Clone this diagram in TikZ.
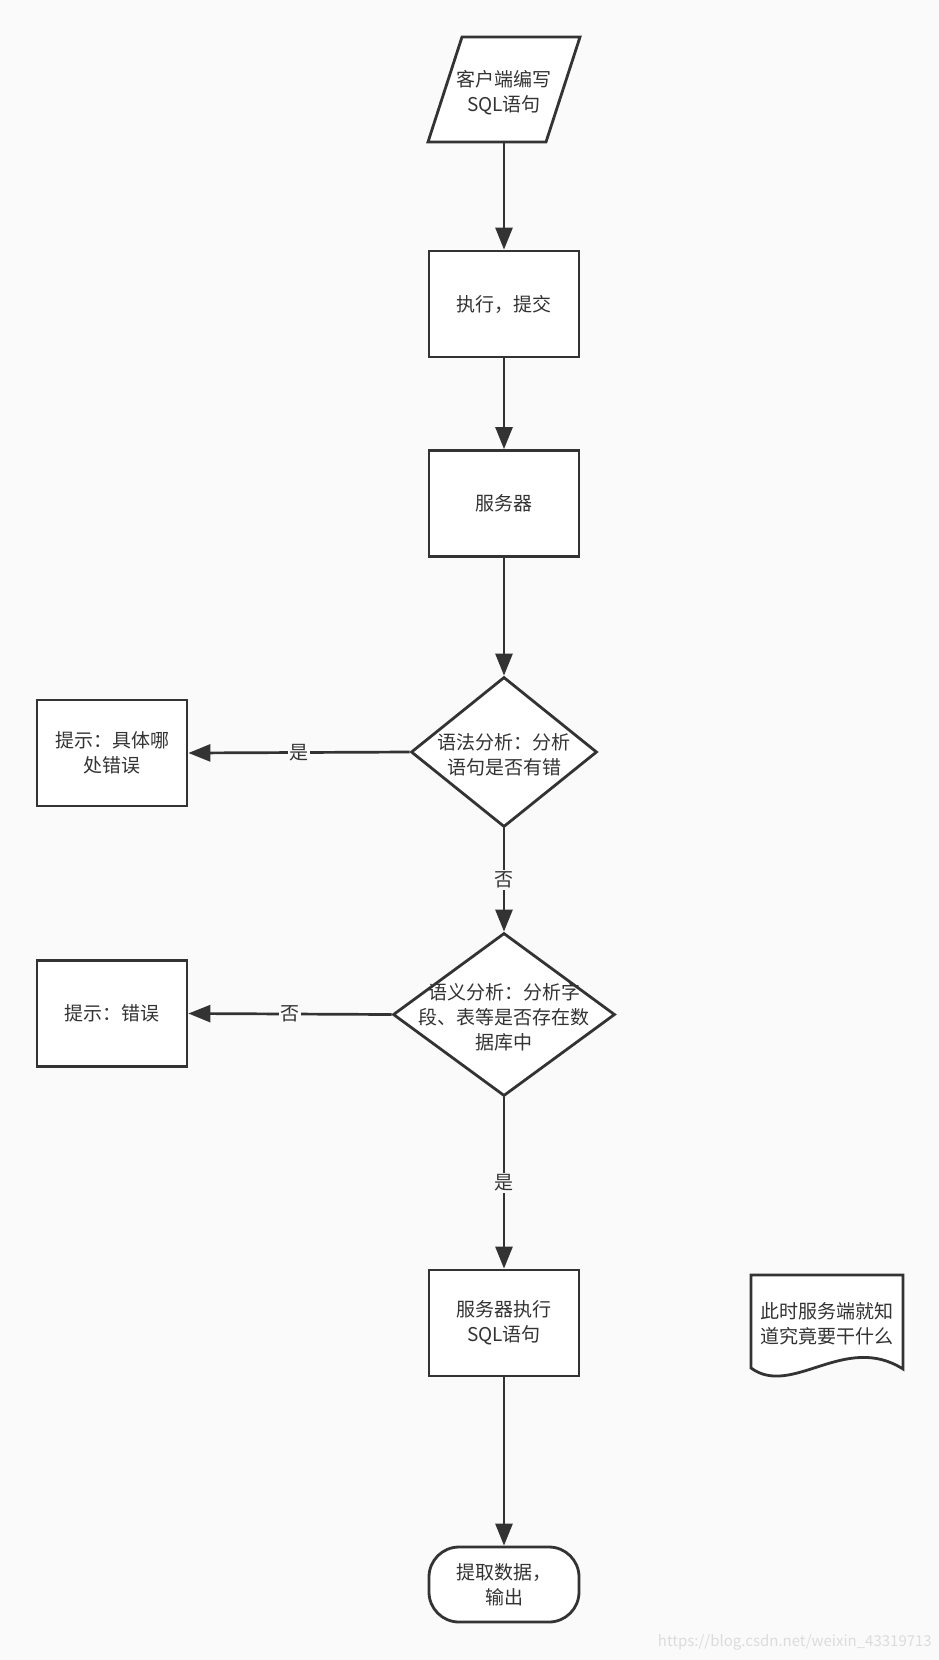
\documentclass[tikz,border=0pt]{standalone}
\usepackage{fontspec}
\setmainfont{Noto Sans CJK SC}
\usetikzlibrary{shapes.geometric,arrows.meta}
\definecolor{bg}{HTML}{FAFAFA}
\definecolor{ink}{HTML}{333333}
\definecolor{wm}{HTML}{DCDCDC}
\begin{document}
\begin{tikzpicture}[x=1pt,y=-1pt,
  every node/.style={font=\fontsize{19}{25}\selectfont, text=ink},
  box/.style={draw=ink, line width=2.8pt, fill=white, minimum width=150pt, minimum height=106pt, align=center, inner sep=0pt},
  dia/.style={diamond, draw=ink, line width=2.8pt, fill=white, inner sep=0pt},
  term/.style={draw=ink, line width=2.8pt, fill=white, minimum width=150pt, minimum height=75pt, rounded corners=30pt, align=center, inner sep=0pt},
  txt/.style={align=center, inner sep=0pt},
  arr/.style={draw=ink, line width=2.7pt, -{Triangle[length=22pt,width=17pt]}},
  lbl/.style={fill=bg, inner sep=1.5pt, text=ink}
]
\fill[bg] (0,0) rectangle (939,1660);
\useasboundingbox (0,0) rectangle (939,1660);

% parallelogram
\draw[ink, line width=2.8pt, fill=white] (462,37) -- (580,37) -- (546,142) -- (428,142) -- cycle;
\node[txt, minimum width=118pt, minimum height=105pt] (p) at (504,89.5) {};
\node[txt] (pt) at (504,93) {客户端编写\\SQL语句};

\node[box] (b1) at (504,304) {执行，提交};
\node[box] (b2) at (504,503.5) {服务器};

\node[dia, minimum width=186pt, minimum height=150pt] (d1) at (504,752) {};
\node[txt] (d1t) at (504,755) {语法分析：分析\\语句是否有错};

\node[box] (l1) at (112,753) {提示：具体哪\\处错误};

\node[dia, minimum width=222pt, minimum height=163pt] (d2) at (504,1014.5) {};
\node[txt] (d2t) at (504,1017) {语义分析：分析字\\段、表等是否存在数\\据库中};

\node[box] (l2) at (112,1013.5) {提示：错误};

\node[box] (b3) at (504,1323) {服务器执行\\SQL语句};

\node[term] (t) at (504,1584.5) {提取数据，\\输出};

% document shape
\draw[ink, line width=2.8pt, fill=white] (751,1275) -- (903,1275) -- (903,1369) .. controls (845,1332) and (792,1398) .. (751,1368) -- cycle;
\node[txt] (doc) at (827,1324) {此时服务端就知\\道究竟要干什么};

% connectors
\draw[arr] (p.south) -- (b1.north);
\draw[arr] (b1.south) -- (b2.north);
\draw[arr] (b2.south) -- (d1.north);
\draw[arr] (d1.west) -- node[lbl] {是} (l1.east);
\draw[arr] (d1.south) -- node[lbl] {否} (d2.north);
\draw[arr] (d2.west) -- node[lbl] {否} (l2.east);
\draw[arr] (d2.south) -- node[lbl] {是} (b3.north);
\draw[arr] (b3.south) -- (t.north);

\node[anchor=east, text=wm, font=\fontsize{15}{18}\selectfont, inner sep=0pt] (wmk) at (932,1642) {https://blog.csdn.net/weixin\_43319713};
\end{tikzpicture}
\end{document}
